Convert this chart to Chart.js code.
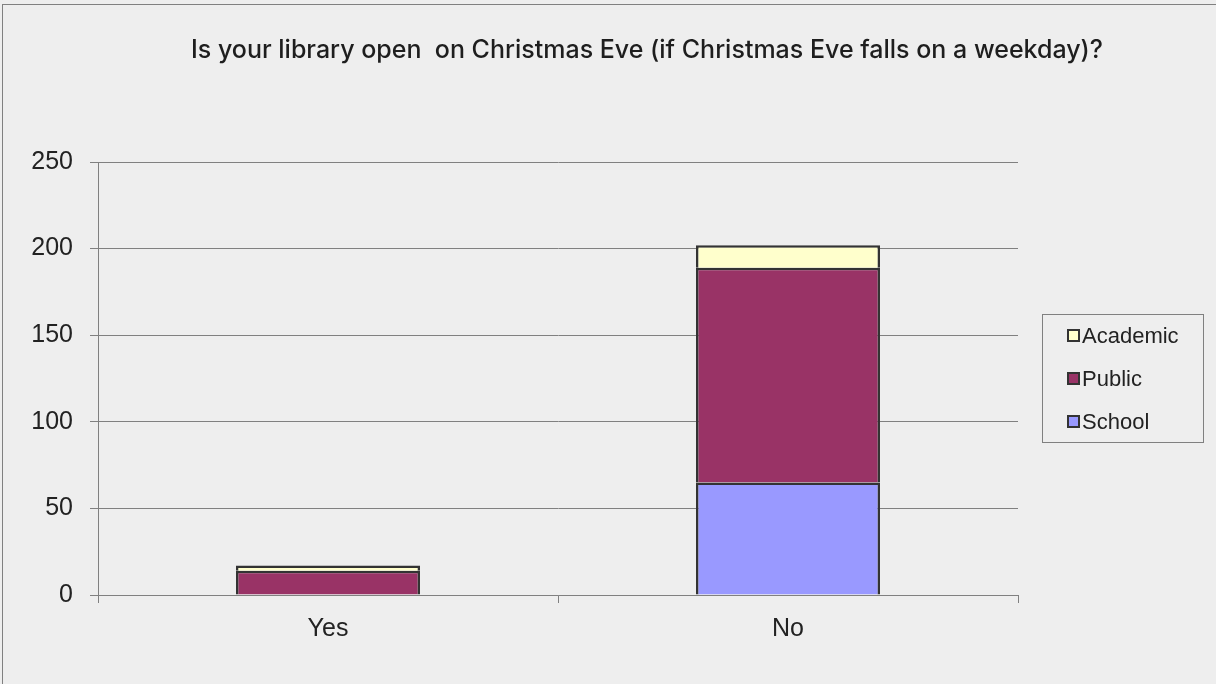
<!DOCTYPE html>
<html>
<head>
<meta charset="utf-8">
<script src="https://cdn.jsdelivr.net/npm/chart.js@4"></script>
<style>
  body { margin: 0; background: #eeeeee; font-family: "Liberation Sans", Arial, sans-serif; }
  #wrap { position: relative; width: 1216px; height: 684px; overflow: hidden; }
  #frame { position: absolute; left: 2px; top: 4px; width: 1230px; height: 700px; border: 1px solid #808080; box-sizing: border-box; }
  #title { position: absolute; left: 0; top: 34px; width: 1294px; text-align: center; font-family: Inter, sans-serif; font-size: 25px; font-weight: 500; color: #1e1e1e; white-space: pre; line-height: 30px; }
  #legend { position: absolute; left: 1042px; top: 314px; width: 162px; height: 129px; border: 1px solid #808080; box-sizing: border-box; }
  #legend div { position: absolute; left: 24px; font-size: 22px; color: #222; line-height: 26px; }
  #legend span { display: inline-block; width: 9px; height: 9px; border: 2px solid #333; margin-right: 2px; vertical-align: 1px; }
  canvas { position: absolute; left: 0; top: 0; }
</style>
</head>
<body>
<div id="wrap">
  <div id="frame"></div>
  <canvas id="myChart" width="1216" height="684"></canvas>
  <div id="title">Is your library open  on Christmas Eve (if Christmas Eve falls on a weekday)?</div>
  <div id="legend"></div>
</div>
<script>
var categories = ['Yes', 'No'];
var school = [0, 65];
var publicLib = [14, 124];
var academic = [3, 13];
var yTicks = [0, 50, 100, 150, 200, 250];

var ctx = document.getElementById('myChart').getContext('2d');
var myChart = new Chart(ctx, {
  type: 'bar',
  data: {
    labels: categories,
    datasets: [
      { label: 'School', data: school, backgroundColor: '#9999ff', borderColor: '#333333', borderWidth: 2.5 },
      { label: 'Public', data: publicLib, backgroundColor: '#993366', borderColor: '#333333', borderWidth: 2.5 },
      { label: 'Academic', data: academic, backgroundColor: '#ffffcc', borderColor: '#333333', borderWidth: 2.5 }
    ]
  },
  options: {
    responsive: false,
    animation: false,
    layout: { padding: { top: 162, right: 198, bottom: 0, left: 0 } },
    datasets: { bar: { categoryPercentage: 1, barPercentage: 0.4 } },
    plugins: { legend: { display: false }, tooltip: { enabled: false } },
    scales: {
      x: {
        stacked: true,
        afterFit: function (s) { s.height = 89; },
        grid: { offset: true, drawOnChartArea: false, drawTicks: true, tickLength: 8, color: '#808080' },
        border: { display: true, color: '#808080', width: 1 },
        ticks: { padding: 11, color: '#222', font: { family: 'Liberation Sans', size: 25 } }
      },
      y: {
        stacked: true,
        min: 0,
        max: 250,
        afterFit: function (s) { s.width = 98; },
        afterBuildTicks: function (s) { s.ticks = yTicks.map(function (v) { return { value: v }; }); },
        grid: { color: '#808080', tickLength: 8 },
        border: { display: true, color: '#808080', width: 1 },
        ticks: { padding: 17, color: '#222', font: { family: 'Liberation Sans', size: 25 } }
      }
    }
  }
});

// legend, same order as the reference (top to bottom)
var legend = document.getElementById('legend');
var rows = [2, 1, 0];
rows.forEach(function (i, k) {
  var ds = myChart.data.datasets[i];
  var d = document.createElement('div');
  d.style.top = (8 + k * 43) + 'px';
  d.innerHTML = '<span style="background:' + ds.backgroundColor + '"></span>' + ds.label;
  legend.appendChild(d);
});
</script>
</body>
</html>
